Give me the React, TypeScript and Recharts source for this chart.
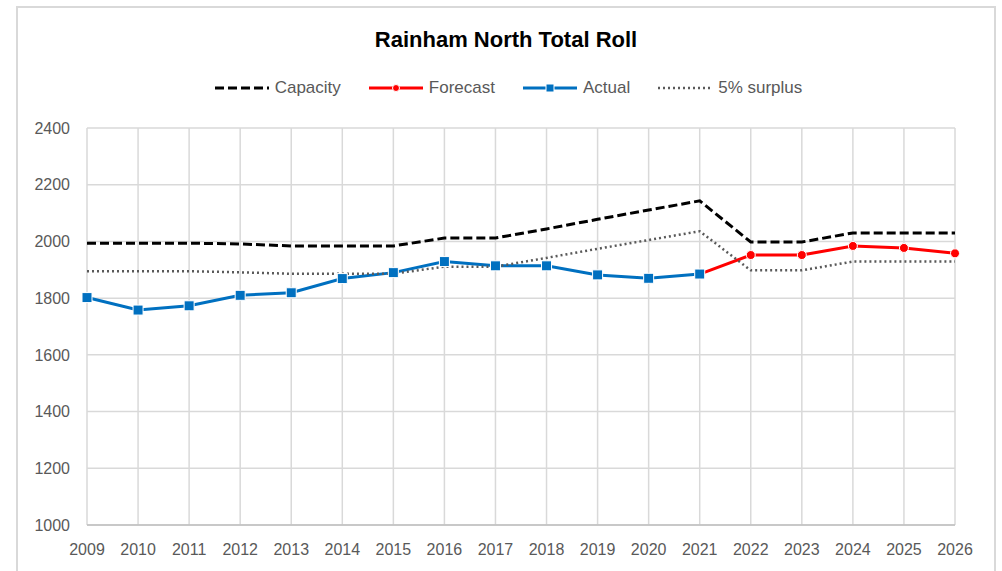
import React from 'react';
import { LineChart, Line, XAxis, YAxis, CartesianGrid } from 'recharts';

const years = ['2009','2010','2011','2012','2013','2014','2015','2016','2017','2018','2019','2020','2021','2022','2023','2024','2025','2026'];
const capacity = [1994,1994,1994,1991,1984,1984,1984,2012,2012,2044,2078,2111,2143,1998,1998,2030,2030,2030];
const surplus = [1895,1895,1895,1891,1886,1886,1886,1911,1911,1942,1974,2005,2036,1898,1898,1929,1929,1929];
const actual: (number | null)[] = [1802,1758,1773,1810,1819,1869,1890,1929,1914,1914,1882,1870,1885,null,null,null,null,null];
const forecast: (number | null)[] = [null,null,null,null,null,null,null,null,null,null,null,null,1885,1952,1952,1984,1977,1958];
const yTicks = [1000,1200,1400,1600,1800,2000,2200,2400];

const data = years.map((y, i) => ({
  year: y,
  capacity: capacity[i],
  forecast: forecast[i],
  actual: actual[i],
  surplus: surplus[i],
}));

const FONT = '"Liberation Sans", Arial, sans-serif';
const GRID = '#d9d9d9';
const TEXT = '#595959';

const SquareDot = (props: any) => {
  const { cx, cy, index } = props;
  if (cx == null || cy == null || props.value == null) return <g key={`s${index}`} />;
  return <rect key={`s${index}`} x={cx - 5} y={cy - 5} width={10} height={10} fill="#0070c0" stroke="#ffffff" strokeWidth={1} />;
};

const CircleDot = (props: any) => {
  const { cx, cy, index } = props;
  if (cx == null || cy == null || props.value == null) return <g key={`c${index}`} />;
  return <circle key={`c${index}`} cx={cx} cy={cy} r={4.5} fill="#ff0000" stroke="#ffffff" strokeWidth={1} />;
};

const legendItems = [
  { label: 'Capacity', color: '#000000', dash: '9 4', width: 3, marker: 'none' },
  { label: 'Forecast', color: '#ff0000', dash: undefined, width: 3, marker: 'circle' },
  { label: 'Actual', color: '#0070c0', dash: undefined, width: 3, marker: 'square' },
  { label: '5% surplus', color: '#595959', dash: '2 3', width: 2.5, marker: 'none' },
];

export default function App() {
  return (
    <div style={{ position: 'absolute', left: 0, top: 0, width: 1002, height: 571, overflow: 'hidden', background: '#fff' }}>
      <div style={{ position: 'absolute', left: 16, top: 6, width: 980, height: 620, border: '2px solid #d9d9d9', boxSizing: 'border-box' }} />
      <div style={{ position: 'absolute', left: 0, top: 27, width: 1012, textAlign: 'center', fontFamily: FONT, fontWeight: 'bold', fontSize: 22, color: '#000' }}>
        Rainham North Total Roll
      </div>
      <div style={{ position: 'absolute', left: 2, top: 78, width: 1012, display: 'flex', justifyContent: 'center', fontFamily: FONT, fontSize: 17, color: TEXT }}>
        {legendItems.map((it, i) => (
          <div key={it.label} style={{ display: 'flex', alignItems: 'center', marginLeft: i === 0 ? 0 : 27 }}>
            <svg width={56} height={20}>
              <line x1={1} y1={10} x2={55} y2={10} stroke={it.color} strokeWidth={it.width} strokeDasharray={it.dash} />
              {it.marker === 'circle' && <circle cx={28} cy={10} r={3.5} fill={it.color} stroke="#fff" strokeWidth={1} />}
              {it.marker === 'square' && <rect x={24} y={6} width={8} height={8} fill={it.color} stroke="#fff" strokeWidth={1} />}
            </svg>
            <span style={{ marginLeft: 5 }}>{it.label}</span>
          </div>
        ))}
      </div>
      <div style={{ position: 'absolute', left: 0, top: 0 }}>
        <LineChart width={1002} height={571} data={data} margin={{ top: 128, right: 47, bottom: 16, left: 37 }}>
          <CartesianGrid stroke={GRID} strokeWidth={1.5} vertical={true} horizontal={true} />
          <XAxis
            dataKey="year"
            tickLine={false}
            tickSize={0}
            tickMargin={19}
            axisLine={{ stroke: '#bfbfbf', strokeWidth: 1.5 }}
            tick={{ fill: TEXT, fontSize: 16, fontFamily: FONT }}
            interval={0}
          />
          <YAxis
            width={50}
            domain={[1000, 2400]}
            ticks={yTicks}
            tickLine={false}
            tickSize={0}
            tickMargin={17}
            axisLine={false}
            tick={{ fill: TEXT, fontSize: 16, fontFamily: FONT }}
          />
          <Line dataKey="capacity" stroke="#000000" strokeWidth={3} strokeDasharray="9 4" dot={false} isAnimationActive={false} />
          <Line dataKey="forecast" stroke="#ff0000" strokeWidth={3} dot={CircleDot} activeDot={false} isAnimationActive={false} connectNulls={false} />
          <Line dataKey="actual" stroke="#0070c0" strokeWidth={3} dot={SquareDot} activeDot={false} isAnimationActive={false} connectNulls={false} />
          <Line dataKey="surplus" stroke="#595959" strokeWidth={2.5} strokeDasharray="2 3" dot={false} isAnimationActive={false} />
        </LineChart>
      </div>
    </div>
  );
}
